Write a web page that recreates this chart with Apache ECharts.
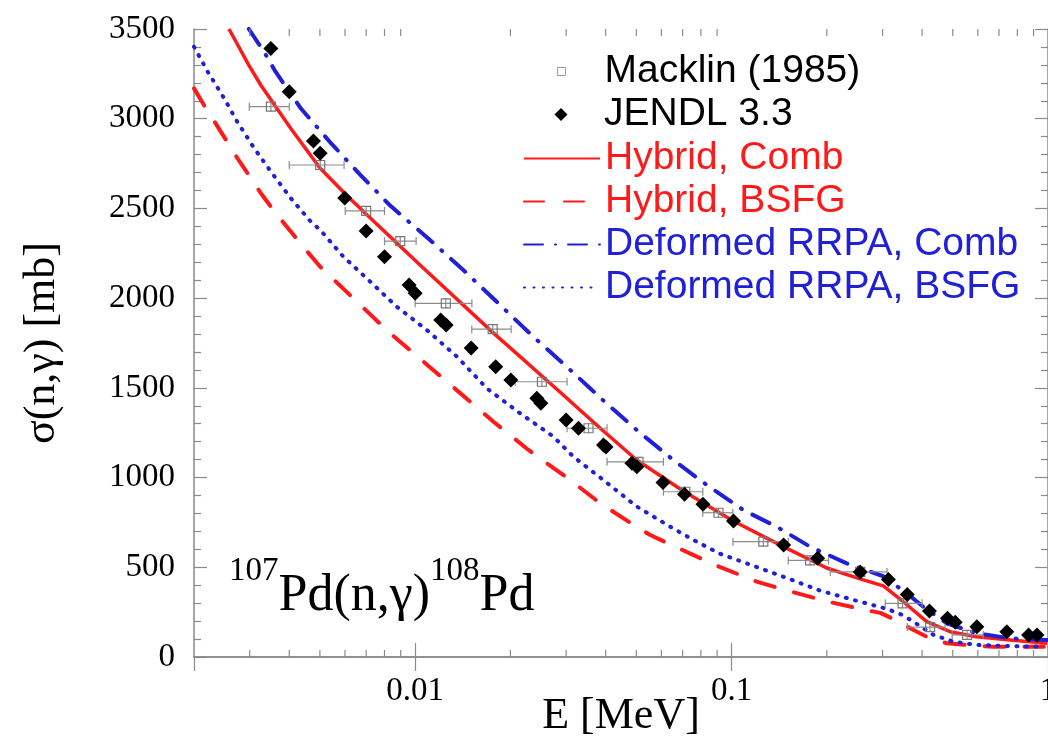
<!DOCTYPE html>
<html><head><meta charset="utf-8">
<script src="https://cdn.jsdelivr.net/npm/echarts@6/dist/echarts.min.js"></script>
<style>html,body{margin:0;padding:0;background:#fff}#c{width:1048px;height:749px}</style>
</head><body><div id="c"></div>
<script>
// ---- data (E in MeV, sigma in mb) ----
const hybridCombE = [0.00258, 0.00298, 0.00325, 0.00404, 0.0050, 0.0061, 0.00741, 0.01036, 0.01762, 0.02868, 0.03838, 0.05013, 0.07036, 0.1012, 0.1457, 0.1998, 0.2546, 0.3017, 0.3488, 0.4137, 0.490, 0.595, 0.759, 0.993];
const hybridCombV = [3500, 3299, 3188, 2947, 2725, 2569, 2427, 2185, 1808, 1477, 1276, 1098, 925, 758, 615, 496, 435, 396, 308, 197, 141, 113, 95, 76];

const hybridBsfgE = [0.002, 0.00215, 0.00237, 0.00274, 0.00325, 0.00358, 0.00433, 0.00501, 0.00638, 0.00823, 0.01062, 0.0137, 0.01768, 0.02281, 0.0309, 0.03844, 0.049, 0.0553, 0.088, 0.12, 0.1532, 0.2, 0.255, 0.295, 0.333, 0.376, 0.414, 0.479, 0.554, 0.673, 0.97];
const hybridBsfgV = [3169, 3076, 2959, 2781, 2586, 2486, 2307, 2175, 1999, 1813, 1646, 1479, 1311, 1154, 986, 857, 736, 680, 515, 420, 366, 310, 268, 246, 202, 150, 113, 76, 67, 57, 57];

const rrpaCombE = [0.00298, 0.00333, 0.00362, 0.00435, 0.00541, 0.00672, 0.00837, 0.01114, 0.01419, 0.0181, 0.02362, 0.03012, 0.0398, 0.05013, 0.06543, 0.08342, 0.1089, 0.1388, 0.1769, 0.2311, 0.3017, 0.3576, 0.4036, 0.4785, 0.595, 0.759, 0.993];
const rrpaCombV = [3500, 3373, 3262, 3058, 2865, 2686, 2513, 2324, 2157, 1980, 1785, 1618, 1421, 1265, 1098, 959, 819, 726, 615, 522, 450, 355, 280, 188, 132, 104, 95];

const rrpaBsfgE = [0.002, 0.00221, 0.00249, 0.00274, 0.0031, 0.0035, 0.00405, 0.00468, 0.00501, 0.00593, 0.00721, 0.00875, 0.01089, 0.01355, 0.01685, 0.02147, 0.02736, 0.03164, 0.03937, 0.0502, 0.064, 0.0758, 0.092, 0.1173, 0.1496, 0.1905, 0.243, 0.31, 0.349, 0.3945, 0.435, 0.503, 0.596, 0.76, 0.97];
const rrpaBsfgV = [3401, 3262, 3114, 2983, 2835, 2705, 2556, 2426, 2380, 2231, 2092, 1952, 1822, 1674, 1497, 1358, 1228, 1116, 986, 838, 726, 652, 575, 508, 440, 370, 318, 268, 232, 172, 123, 85, 67, 61, 57];

const jendlE = [0.0035, 0.0040, 0.00477, 0.00501, 0.00599, 0.0070, 0.0080, 0.00957, 0.0100, 0.01204, 0.01253, 0.01503, 0.01797, 0.02007, 0.02424, 0.02496, 0.0300, 0.03282, 0.03937, 0.0401, 0.0484, 0.0502, 0.0607, 0.0710, 0.0812, 0.1014, 0.146, 0.187, 0.255, 0.313, 0.359, 0.422, 0.481, 0.509, 0.596, 0.741, 0.868, 0.923];
const jendlV = [3392, 3150, 2876, 2807, 2558, 2374, 2231, 2073, 2027, 1878, 1850, 1722, 1618, 1544, 1442, 1414, 1321, 1275, 1181, 1170, 1080, 1061, 973, 907, 851, 758, 624, 550, 474, 432, 348, 256, 216, 193, 169, 141, 123, 123];

const macklinE  = [0.0035, 0.00501, 0.0070, 0.00897, 0.0125, 0.01758, 0.02515, 0.0353, 0.0508, 0.0714, 0.0909, 0.126, 0.177, 0.255, 0.347, 0.424, 0.555];
const macklinV  = [3067, 2742, 2486, 2318, 1971, 1827, 1534, 1275, 1088, 921, 804, 643, 538, 474, 299, 167, 123];
const macklinLo = [0.00299, 0.0040, 0.00601, 0.0080, 0.0100, 0.0151, 0.0207, 0.0302, 0.0404, 0.0609, 0.0811, 0.101, 0.151, 0.205, 0.306, 0.359, 0.498];
const macklinHi = [0.0040, 0.00596, 0.0080, 0.01007, 0.01511, 0.0201, 0.0302, 0.0404, 0.0609, 0.0811, 0.1009, 0.151, 0.2025, 0.31, 0.40, 0.473, 0.624];

const xMinorTicks = [0.003, 0.004, 0.005, 0.006, 0.007, 0.008, 0.009,
                     0.02, 0.03, 0.04, 0.05, 0.06, 0.07, 0.08, 0.09,
                     0.2, 0.3, 0.4, 0.5, 0.6, 0.7, 0.8, 0.9];
const xMajorLabels = [0.01, 0.1, 1];

const names = ['Macklin (1985)', 'JENDL 3.3', 'Hybrid, Comb', 'Hybrid, BSFG', 'Deformed RRPA, Comb', 'Deformed RRPA, BSFG'];

// ---- styles ----
const RED = '#ff1a1a', BLUE = '#2020d8', AXIS = '#8a8a8a';
const SERIF = 'Liberation Serif', SANS = 'Liberation Sans';
// legend icons: the stray move-to points keep the icon box as wide as the legend item,
// so the small square / diamond sits centred above the line samples
const SQUARE_PATH = 'path://M0,0M34,0L42,0L42,8L34,8ZM76,8';
const DIAMOND_PATH = 'path://M0,0M38,0L44.5,6.5L38,13L31.5,6.5ZM76,13';
const pairs = (a, b) => a.map((x, i) => [x, b[i]]);

const chart = echarts.init(document.getElementById('c'), null, {renderer: 'canvas'});

const xBase = {
  type: 'log', logBase: 10, min: 0.002, max: 1,
  axisLine: {show: true, lineStyle: {color: AXIS, width: 1.5}},
  axisTick: {show: true, inside: true, length: 14, lineStyle: {color: AXIS, width: 1.2}},
  splitLine: {show: false}, minorTick: {show: false}
};
const yBase = {
  type: 'value', min: 0, max: 3500, interval: 500,
  axisLine: {show: true, lineStyle: {color: AXIS, width: 1.5}},
  axisTick: {show: true, inside: true, length: 13, lineStyle: {color: AXIS, width: 1.2}},
  minorTick: {show: true, splitNumber: 5, length: 7, lineStyle: {color: AXIS, width: 1.2}},
  splitLine: {show: false}, minorSplitLine: {show: false}
};
const legendText = {fontFamily: SANS, fontSize: 39, color: '#000', lineHeight: 43};

const option = {
  animation: false,
  backgroundColor: '#fff',
  grid: {left: 194, right: 0, top: 29, bottom: 92, containLabel: false, outerBoundsMode: 'none'},
  xAxis: [
    Object.assign({}, xBase, {
      position: 'bottom',
      name: 'E [MeV]', nameLocation: 'middle', nameGap: 37, nameMoveOverlap: false,
      nameTextStyle: {fontFamily: SERIF, fontSize: 44, color: '#000', verticalAlign: 'top'},
      axisLabel: {
        show: true, margin: 2, lineHeight: 64, fontFamily: SERIF, fontSize: 33, color: '#000',
        showMinLabel: false, hideOverlap: false,
        formatter: v => (xMajorLabels.some(t => Math.abs(t - v) / t < 1e-6) ? String(v) : '')
      }
    }),
    Object.assign({}, xBase, {position: 'top', axisLabel: {show: false}})
  ],
  yAxis: [
    Object.assign({}, yBase, {
      position: 'left',
      name: 'σ(n,γ) [mb]', nameLocation: 'middle', nameGap: 130, nameMoveOverlap: false,
      nameTextStyle: {fontFamily: SERIF, fontSize: 44, color: '#000'},
      axisLabel: {show: true, margin: 19, fontFamily: SERIF, fontSize: 33, color: '#000',
                  formatter: v => String(v)}
    }),
    Object.assign({}, yBase, {position: 'right', axisLabel: {show: false}})
  ],
  legend: [
    {
      data: [{name: names[0], icon: SQUARE_PATH, itemStyle: {color: '#fff', borderColor: '#999', borderWidth: 1}}],
      orient: 'vertical', left: 523, top: 50, padding: 0, itemGap: 0,
      itemWidth: 76, itemHeight: 8, selectedMode: false, textStyle: legendText
    },
    {
      data: [{name: names[1], icon: DIAMOND_PATH, itemStyle: {color: '#000', opacity: 1}}],
      orient: 'vertical', left: 523, top: 93, padding: 0, itemGap: 0,
      itemWidth: 76, itemHeight: 13, selectedMode: false, textStyle: legendText
    },
    {
      data: [
        {name: names[2], textStyle: {color: RED}},
        {name: names[3], textStyle: {color: RED}},
        {name: names[4], textStyle: {color: BLUE}},
        {name: names[5], textStyle: {color: BLUE}}
      ],
      orient: 'vertical', left: 523, top: 137, padding: 0, itemGap: 0,
      itemWidth: 76, itemHeight: 14, selectedMode: false,
      itemStyle: {opacity: 0},
      textStyle: {fontFamily: SANS, fontSize: 39, lineHeight: 43}
    }
  ],
  graphic: [{
    type: 'text', left: 229, top: 555, z: 10,
    style: {
      text: '{s|107}{m|Pd(n,γ)}{s|108}{m|Pd}',
      rich: {
        s: {fontFamily: SERIF, fontSize: 33, lineHeight: 33, verticalAlign: 'top', fill: '#000'},
        m: {fontFamily: SERIF, fontSize: 52, lineHeight: 82, fill: '#000'}
      }
    }
  }],
  series: [
    {
      name: 'xminor', type: 'custom', silent: true, z: 6, xAxisIndex: 0, yAxisIndex: 0,
      data: xMinorTicks.map(v => [v, 0]),
      renderItem: (p, api) => {
        const b = api.coord([api.value(0), 0]);
        const t = api.coord([api.value(0), 3500]);
        const st = {stroke: AXIS, lineWidth: 1.2};
        return {type: 'group', children: [
          {type: 'line', shape: {x1: b[0], y1: b[1], x2: b[0], y2: b[1] - 7}, style: st},
          {type: 'line', shape: {x1: t[0], y1: t[1], x2: t[0], y2: t[1] + 7}, style: st}
        ]};
      }
    },
    {
      name: names[2], type: 'line', symbol: 'none', z: 3, data: pairs(hybridCombE, hybridCombV),
      lineStyle: {color: RED, width: 3.5}, itemStyle: {color: RED}
    },
    {
      name: names[3], type: 'line', symbol: 'none', z: 3, data: pairs(hybridBsfgE, hybridBsfgV),
      lineStyle: {color: RED, width: 4, type: [20, 20], cap: 'round'}, itemStyle: {color: RED}
    },
    {
      name: names[4], type: 'line', symbol: 'none', z: 3, data: pairs(rrpaCombE, rrpaCombV),
      lineStyle: {color: BLUE, width: 4, type: [19, 12, 1, 12], cap: 'round'}, itemStyle: {color: BLUE}
    },
    {
      name: names[5], type: 'line', symbol: 'none', z: 3, data: pairs(rrpaBsfgE, rrpaBsfgV),
      lineStyle: {color: BLUE, width: 4, type: [1, 8.5], cap: 'round'}, itemStyle: {color: BLUE}
    },
    {
      name: 'macklin-err', type: 'custom', silent: true, z: 4,
      data: macklinE.map((e, i) => [e, macklinV[i], macklinLo[i], macklinHi[i]]),
      renderItem: (p, api) => {
        const y = api.value(1);
        const c = api.coord([api.value(0), y]);
        const l = api.coord([api.value(2), y]);
        const r = api.coord([api.value(3), y]);
        const st = {stroke: '#8c8c8c', lineWidth: 1.2};
        return {type: 'group', children: [
          {type: 'line', shape: {x1: l[0], y1: c[1], x2: r[0], y2: c[1]}, style: st},
          {type: 'line', shape: {x1: l[0], y1: c[1] - 4, x2: l[0], y2: c[1] + 4}, style: st},
          {type: 'line', shape: {x1: r[0], y1: c[1] - 4, x2: r[0], y2: c[1] + 4}, style: st},
          {type: 'line', shape: {x1: c[0], y1: c[1] - 5, x2: c[0], y2: c[1] + 5}, style: st}
        ]};
      }
    },
    {
      name: names[0], type: 'scatter', z: 5, symbol: 'rect', symbolSize: 9,
      data: pairs(macklinE, macklinV),
      itemStyle: {color: 'rgba(255,255,255,0)', borderColor: '#777', borderWidth: 1.2, opacity: 1}
    },
    {
      name: names[1], type: 'scatter', z: 7, symbol: 'diamond', symbolSize: 15,
      data: pairs(jendlE, jendlV),
      itemStyle: {color: '#000', opacity: 1}
    }
  ]
};
chart.setOption(option);
</script>
</body></html>
